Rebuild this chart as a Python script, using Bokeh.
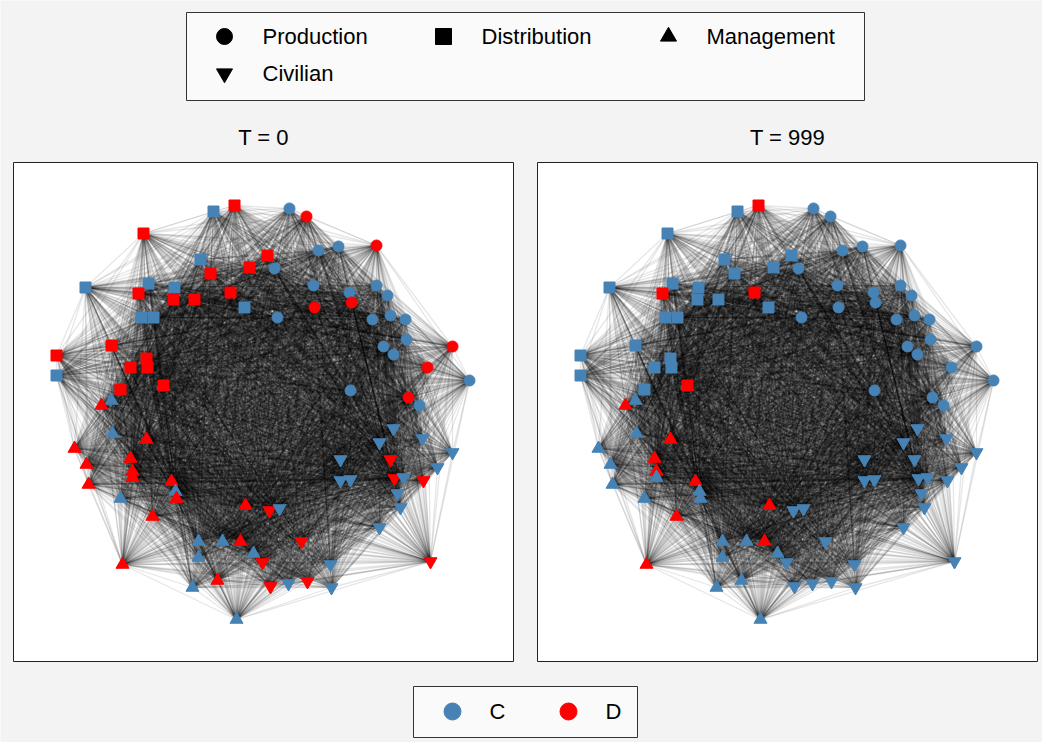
from bokeh.plotting import figure
from bokeh.models import Range1d, ColumnDataSource
from bokeh.embed import file_html
from bokeh.resources import INLINE
from bokeh.core.properties import value

# node positions (page pixels), role, state at T=0 and T=999
prod_x = [289, 306, 318, 338, 376, 274, 313, 349, 376, 387, 314, 351, 277, 372, 390, 405, 406, 383, 393, 452, 427, 469, 350, 408, 419]
prod_y = [208, 216, 250, 246, 245, 268, 285, 292, 285, 295, 307, 302, 317, 319, 315, 319, 339, 346, 354, 346, 367, 380, 390, 397, 405]
prod_t0 = list("CDCCDCCCCCDDCCCCCCCDDCCDC")
prod_t999 = list("CCCCCCCCCCCCCCCCCCCCCCCCC")

dist_x = [213, 234, 143, 200, 210, 249, 85, 148, 174, 138, 173, 194, 230, 244, 141, 153, 56, 111, 146, 130, 147, 56, 163, 120, 267]
dist_y = [211, 205, 233, 259, 273, 267, 287, 283, 287, 293, 299, 299, 292, 307, 317, 317, 355, 345, 358, 367, 367, 375, 385, 389, 255]
dist_t0 = list("CDDCDDCCCDDDDCCCDDDDDCDDD")
dist_t999 = list("CDCCCCCCCDCCDCCCCCCCCCDCC")

mgmt_x = [111, 101, 112, 146, 74, 130, 86, 132, 132, 88, 171, 175, 176, 120, 245, 152, 198, 222, 240, 198, 253, 122, 217, 192, 236]
mgmt_y = [400, 405, 433, 439, 448, 458, 464, 471, 477, 484, 481, 491, 498, 498, 505, 516, 541, 541, 541, 557, 553, 564, 580, 587, 619]
mgmt_t0 = list("CDCDDDDDDDDCDCDDCCDCCDDCC")
mgmt_t999 = list("CDCDCDCDCCDCCCDDCCDCCDCCC")

civ_x = [393, 422, 379, 452, 340, 390, 437, 394, 403, 423, 340, 350, 397, 400, 269, 279, 379, 301, 430, 262, 330, 270, 288, 307, 331]
civ_y = [428, 438, 442, 452, 459, 459, 467, 478, 477, 480, 480, 479, 493, 507, 510, 508, 527, 541, 561, 562, 564, 586, 583, 581, 587]
civ_t0 = list("CCCCCDCDCDCCCCDCCDDDCDCDC")
civ_t999 = ["C"] * 25

legend_labels = ["Production", "Distribution", "Management", "Civilian"]
state_labels = ["C", "D"]
titles = ["T = 0", "T = 999"]

COLORS = {"C": "#4682b4", "D": "#ff0000"}
FONT = value("Liberation Sans")

p = figure(width=1042, height=742, x_range=Range1d(0, 1042), y_range=Range1d(742, 0),
           output_backend="svg", toolbar_location=None, min_border=0)
p.axis.visible = False
p.grid.visible = False
p.outline_line_color = None
p.background_fill_color = "#f3f3f3"
p.border_fill_color = "#f3f3f3"

groups = [
    (prod_x, prod_y, prod_t0, prod_t999, "circle", 11),
    (dist_x, dist_y, dist_t0, dist_t999, "square", 11),
    (mgmt_x, mgmt_y, mgmt_t0, mgmt_t999, "triangle", 13),
    (civ_x, civ_y, civ_t0, civ_t999, "inverted_triangle", 13),
]

all_x = prod_x + dist_x + mgmt_x + civ_x
all_y = prod_y + dist_y + mgmt_y + civ_y

for k, off in enumerate([0, 524]):
    p.quad(left=[13 + off], right=[513 + off], top=[162], bottom=[661],
           fill_color="white", line_color="#222222", line_width=1)
    xs, ys = [], []
    n = len(all_x)
    for i in range(n):
        for j in range(i + 1, n):
            xs.append([all_x[i] + off, all_x[j] + off])
            ys.append([all_y[i], all_y[j]])
    p.multi_line(xs, ys, line_color="black", line_alpha=0.1, line_width=1.3)
    for gx, gy, s0, s1, marker, size in groups:
        states = s0 if k == 0 else s1
        src = ColumnDataSource(dict(x=[v + off for v in gx], y=gy,
                                    c=[COLORS[s] for s in states]))
        p.scatter("x", "y", source=src, marker=marker, size=size,
                  fill_color="c", line_color="c")
    p.text([263 + off], [137], text=[titles[k]], text_font=FONT, text_font_size="22px",
           text_align="center", text_baseline="middle", text_color="black")

# top legend
p.quad(left=[186], right=[864], top=[12], bottom=[100], fill_color="#fafafa",
       line_color="#333333", line_width=1)
lx = [224, 443, 668, 224]
ly = [36, 36, 36, 73]
markers = ["circle", "square", "triangle", "inverted_triangle"]
for mx, my, mk, lab in zip(lx, ly, markers, legend_labels):
    p.scatter([mx], [my], marker=mk, size=16, fill_color="black", line_color="black")
    p.text([mx + 38], [my], text=[lab], text_font=FONT, text_font_size="22px",
           text_baseline="middle", text_color="black")

# bottom legend
p.quad(left=[413], right=[637], top=[686], bottom=[737], fill_color="#fafafa",
       line_color="#333333", line_width=1)
for bx, st in zip([452, 568], state_labels):
    p.scatter([bx], [711], marker="circle", size=17, fill_color=COLORS[st], line_color=COLORS[st])
    p.text([bx + 37], [711], text=[st], text_font=FONT, text_font_size="22px",
           text_baseline="middle", text_color="black")

open("out.html", "w").write(file_html(p, INLINE))
